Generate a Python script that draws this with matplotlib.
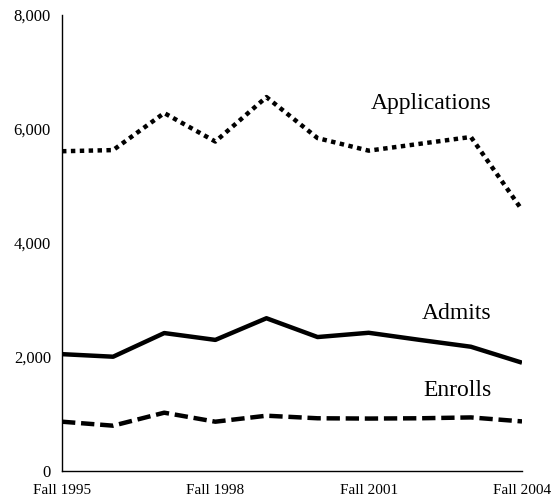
import matplotlib
matplotlib.use("Agg")
import matplotlib.pyplot as plt

years = ["Fall 1995", "Fall 1996", "Fall 1997", "Fall 1998", "Fall 1999",
         "Fall 2000", "Fall 2001", "Fall 2002", "Fall 2003", "Fall 2004"]
applications = [5610, 5630, 6280, 5780, 6560, 5840, 5620, 5740, 5860, 4580]
admits = [2050, 2005, 2420, 2300, 2680, 2350, 2425, 2300, 2180, 1900]
enrolls = [865, 795, 1023, 865, 970, 925, 920, 925, 940, 870]
tick_labels = ["Fall 1995", "Fall 1998", "Fall 2001", "Fall 2004"]

plt.rcParams['font.family'] = ['Liberation Serif', 'DejaVu Serif']

fig = plt.figure(figsize=(5.52, 5.0), dpi=100)
ax = fig.add_axes([62/552, 29/500, 460/552, 456/500])
x = list(range(len(years)))
ax.plot(x, applications, color='black', lw=3.2, linestyle=(0, (1, 1)), dash_capstyle='butt')
ax.plot(x, admits, color='black', lw=3.2, solid_capstyle='butt')
ax.plot(x, enrolls, color='black', lw=3.2, linestyle=(0, (3, 1.3)), dash_capstyle='butt')

ax.set_xlim(0, 9)
ax.set_ylim(0, 8000)
ax.set_xticks([0, 3, 6, 9])
ax.set_xticklabels(tick_labels)
ax.set_yticks([0, 2000, 4000, 6000, 8000])
ax.set_yticklabels([f"{v:,}" for v in [0, 2000, 4000, 6000, 8000]])
ax.tick_params(axis='x', length=0, labelsize=11, pad=9)
ax.tick_params(axis='y', length=0, labelsize=12, pad=8)
for s in ['top', 'right']:
    ax.spines[s].set_visible(False)
for s in ['left', 'bottom']:
    ax.spines[s].set_linewidth(1.0)

ax.text(8.4, 6450, "Applications", ha='right', va='center', fontsize=17)
ax.text(8.4, 2770, "Admits", ha='right', va='center', fontsize=17)
ax.text(8.4, 1420, "Enrolls", ha='right', va='center', fontsize=17)

fig.savefig("out.png", dpi=100)
